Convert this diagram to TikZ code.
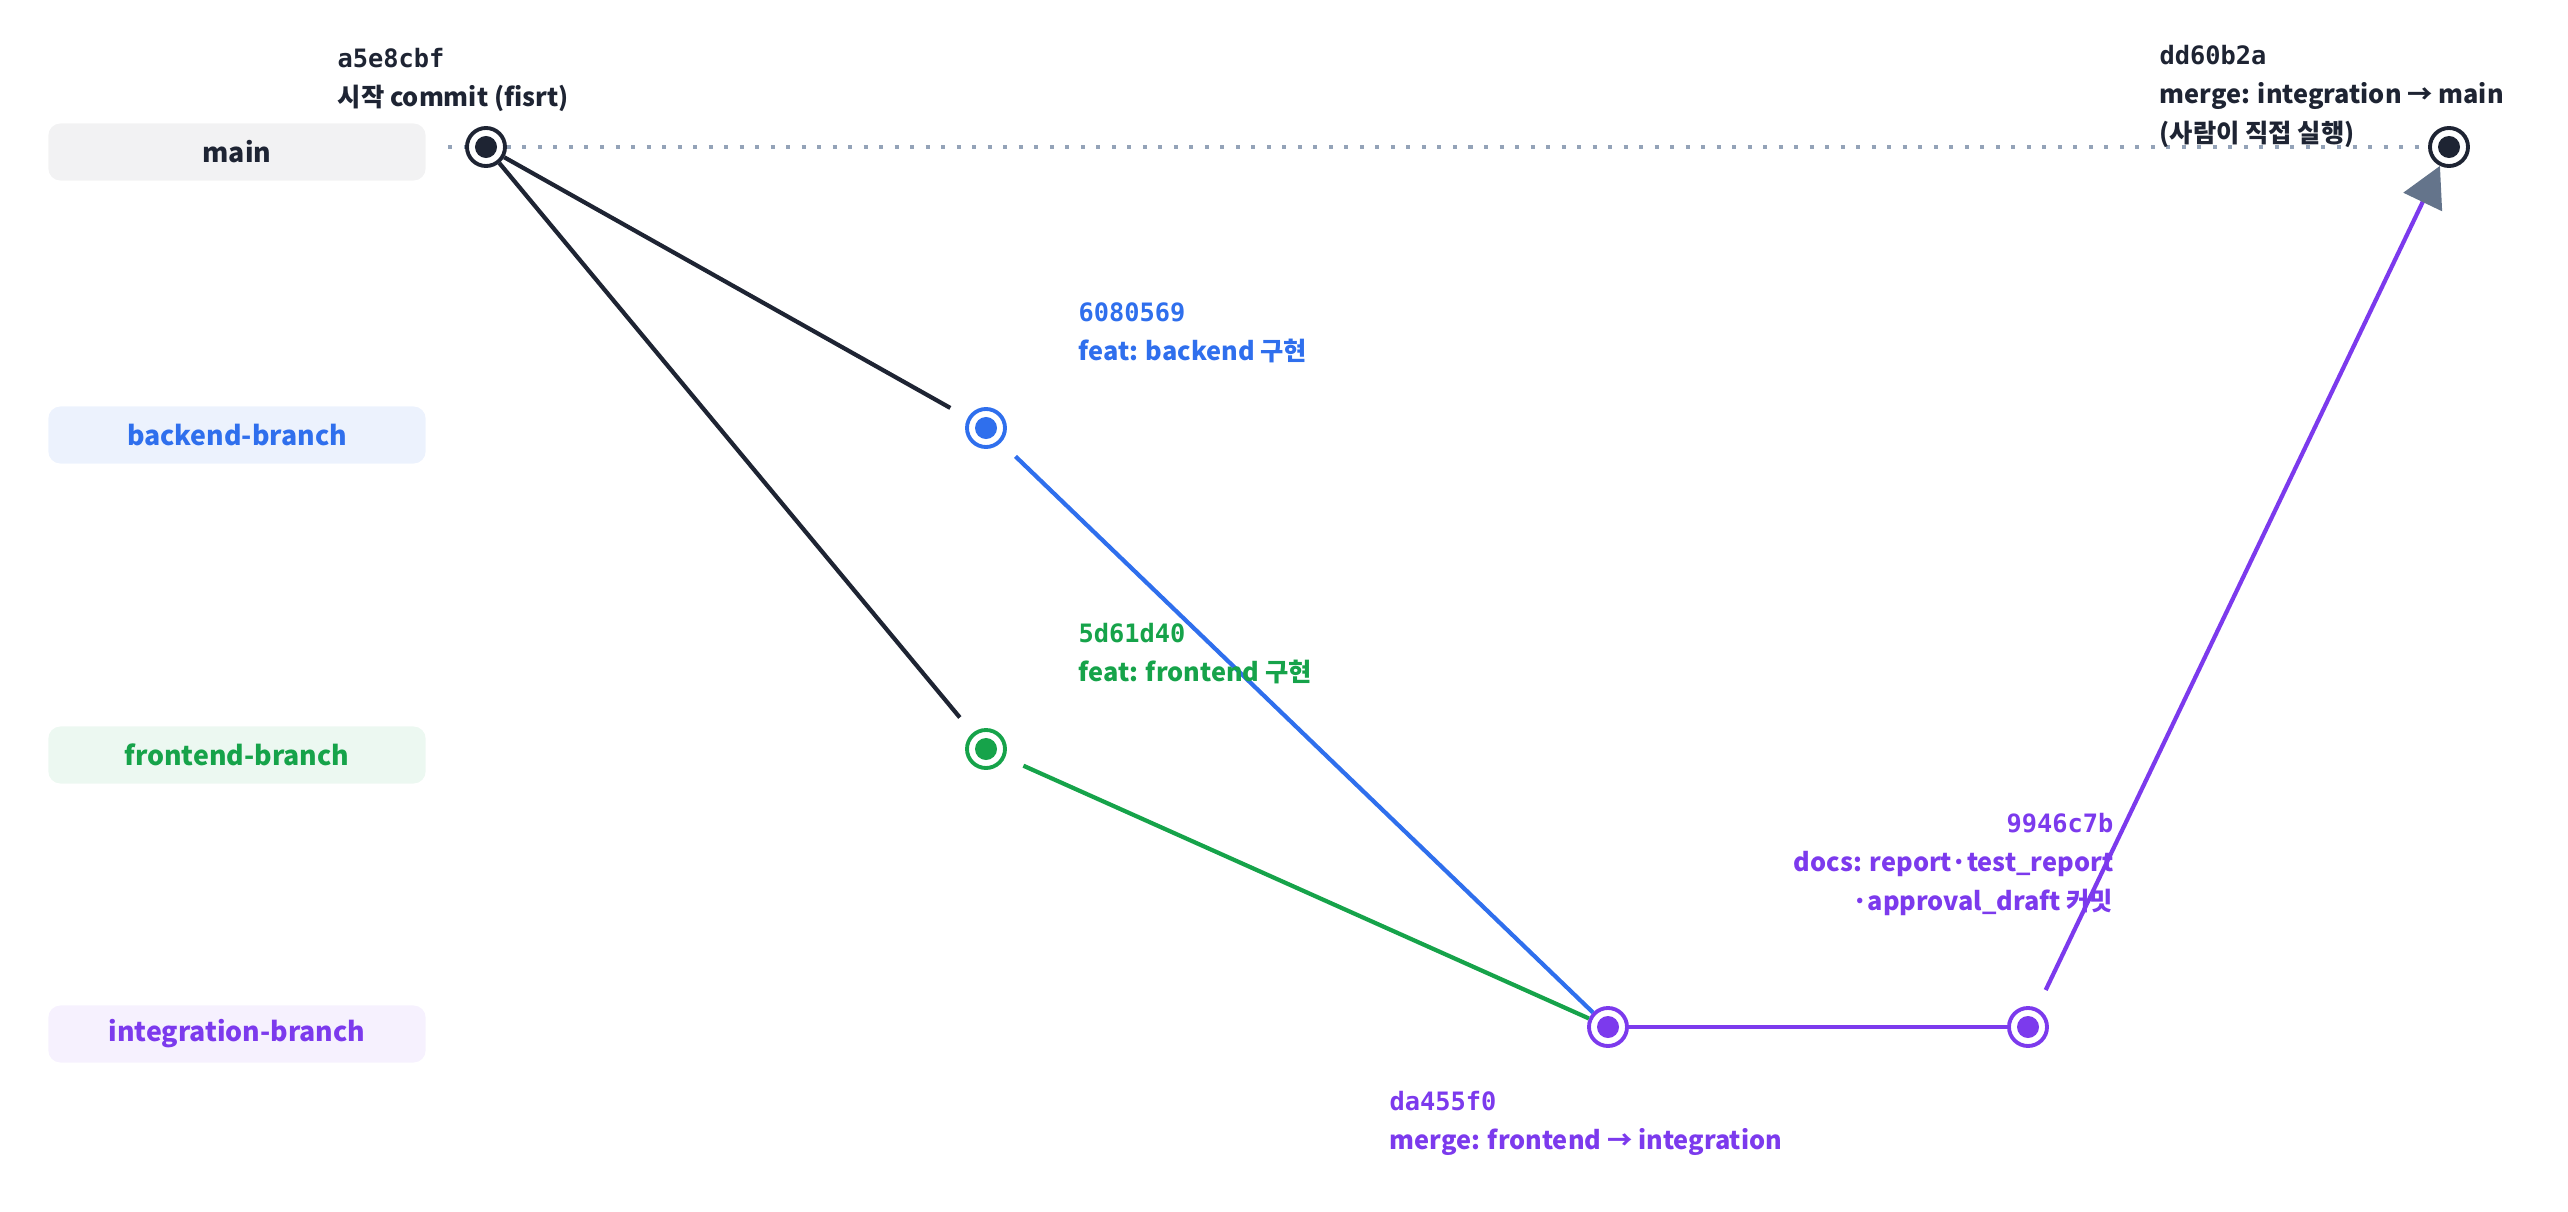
\documentclass[tikz,border=0pt]{standalone}
\usepackage{fontspec}
\setmainfont{Noto Sans CJK KR}
\newfontfamily\hashfont{DejaVu Sans Mono}
\usetikzlibrary{positioning, arrows.meta}

\definecolor{ink}{HTML}{1E2433}
\definecolor{bluec}{HTML}{2F6FED}
\definecolor{greenc}{HTML}{16A34A}
\definecolor{purplec}{HTML}{7C3AED}
\definecolor{dotc}{HTML}{94A3B8}
\definecolor{tipc}{HTML}{64748B}

\tikzset{
    lane/.style={rounded corners=0.12cm, minimum width=3.77cm, minimum height=0.57cm,
        font=\fontsize{7.6}{9}\selectfont\bfseries, text=#1},
    commit/.style={circle, draw=#1, fill=white, line width=1.1pt, minimum size=0.38cm,
        inner sep=0pt,
        path picture={\fill[#1] (path picture bounding box.center) circle (0.11cm);}},
    msg/.style={font=\fontsize{7.2}{11}\selectfont\bfseries, text=#1, inner sep=0pt, align=left},
    edge/.style={line width=1.2pt, draw=#1},
}
\newcommand{\hash}[1]{{\hashfont\bfseries #1}}

\begin{document}
\begin{tikzpicture}[x=0.01cm, y=-0.01cm]

        \useasboundingbox (0,0) rectangle (2568,1212);

        % lanes
        \node[lane=ink, fill=ink!6] (lmain) at (237,152) {main};
        \node[lane=bluec, fill=bluec!9] (lback) at (237,435) {backend-branch};
        \node[lane=greenc, fill=greenc!8] (lfront) at (237,755) {frontend-branch};
        \node[lane=purplec, fill=purplec!7] (linteg) at (237,1034) {integration-branch};

        % commits
        \node[commit=ink] (m0) at (486,147) {};
        \node[commit=bluec] (b1) at (986,428) {};
        \node[commit=greenc] (f1) at (986,749) {};
        \node[commit=purplec] (i1) at (1608,1027) {};
        \node[commit=purplec] (i2) at (2028,1027) {};
        \node[commit=ink] (m1) at (2449,147) {};

        \coordinate (dotstart) at (448,147);
        \draw[dotc, line width=1.3pt, dash pattern=on 0.04cm off 0.115cm] (dotstart) -- (m0.west);
        \draw[dotc, line width=1.3pt, dash pattern=on 0.04cm off 0.115cm] (m0.east) -- (m1.west);

        % connectors
        \draw[edge=ink, shorten >=0.2cm] (m0) -- (b1);
        \draw[edge=ink, shorten >=0.2cm] (m0) -- (f1);
        \draw[edge=bluec, shorten <=0.2cm] (b1) -- (i1);
        \draw[edge=greenc, shorten <=0.2cm] (f1) -- (i1);
        \draw[edge=purplec] (i1) -- (i2);
        \draw[edge=purplec, shorten <=0.2cm,
            -{Triangle[width=0.42cm, length=0.4cm, fill=tipc, color=tipc]}] (i2) -- (m1);

        % labels
        \node[msg=ink, anchor=north west] (tm0) at (337,48) {\hash{a5e8cbf}\\시작 commit (fisrt)};
        \node[msg=bluec, anchor=north west] (tb1) at (1078,302) {\hash{6080569}\\feat: backend 구현};
        \node[msg=greenc, anchor=north west] (tf1) at (1078,623) {\hash{5d61d40}\\feat: frontend 구현};
        \node[msg=purplec, anchor=north west] (ti1) at (1389,1091) {\hash{da455f0}\\merge: frontend → integration};
        \node[msg=purplec, anchor=north east, align=right] (ti2) at (2114,813) {\hash{9946c7b}\\docs: report·test\_report\\·approval\_draft 커밋};
        \node[msg=ink, anchor=north west] (tm1) at (2159,45) {\hash{dd60b2a}\\merge: integration → main\\(사람이 직접 실행)};

    \end{tikzpicture}
\end{document}
